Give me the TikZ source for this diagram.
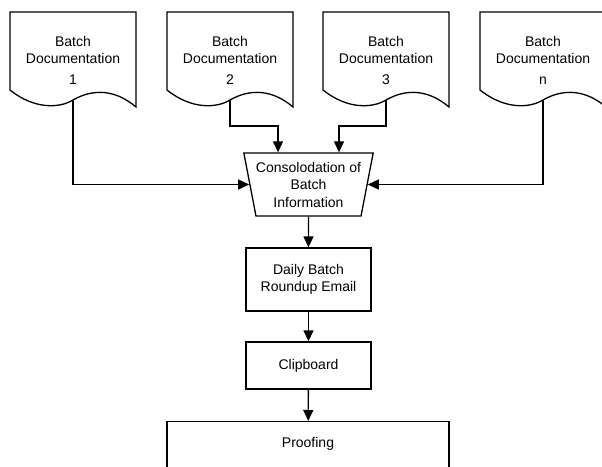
\documentclass[tikz,border=0pt]{standalone}
\usepackage{fontspec}
\setmainfont{Liberation Sans}
\usetikzlibrary{shapes.geometric,arrows.meta}

\tikzset{
  every node/.style={font=\fontsize{14}{17.5}\selectfont, align=center},
  box/.style={draw, line width=1.3pt, minimum width=125pt, inner sep=0pt},
  flow/.style={line width=1.3pt, -{Triangle[length=11pt,width=10pt]}},
  pics/batchdoc/.style={code={
    \draw[line width=1.3pt, fill=white] (0,78) -- (0,0) -- (126,0) -- (126,95)
      .. controls (106,78) and (84,76) .. (63,88)
      .. controls (50,96) and (25,98) .. (0,78) -- cycle;
    \node (-text) at (63,48) {Batch\\Documentation\\[3pt]#1};
    \coordinate (-tail) at (63,88);
  }}
}

\begin{document}
\begin{tikzpicture}[x=1pt,y=-1pt]
  \useasboundingbox (0,0) rectangle (602,466);

  % batch documents
  \pic (d1) at (10,12) {batchdoc=1};
  \pic (d2) at (167,12) {batchdoc=2};
  \pic (d3) at (323,12) {batchdoc=3};
  \pic (dn) at (480,12) {batchdoc=n};

  % process chain
  \node[box, trapezium, shape border rotate=180, trapezium stretches body,
    trapezium left angle=75, trapezium right angle=75,
    minimum width=125pt, minimum height=63pt] (cons) at (308.5,184.5)
    {Consolodation of\\Batch\\Information};
  \node[box, minimum height=63pt] (daily) at (308.5,279.5) {Daily Batch\\Roundup Email};
  \node[box, minimum height=47pt] (clip) at (308.5,365.5) {Clipboard};
  \node[box, minimum width=282pt, anchor=north, text height=9.5pt, text depth=50pt,
    inner ysep=16pt] (proof) at (308,421) {Proofing};

  \coordinate (in2) at ([xshift=-30.5pt]cons.north);
  \coordinate (in3) at ([xshift=30.5pt]cons.north);

  \draw[flow] (d1-tail) |- (cons);
  \draw[flow] (dn-tail) |- (cons);
  \draw[flow] (d2-tail) -- ++(0,26) -| (in2);
  \draw[flow] (d3-tail) -- ++(0,26) -| (in3);
  \draw[flow] (cons) -- (daily);
  \draw[flow] (daily) -- (clip);
  \draw[flow] (clip) -- (proof);
\end{tikzpicture}
\end{document}
